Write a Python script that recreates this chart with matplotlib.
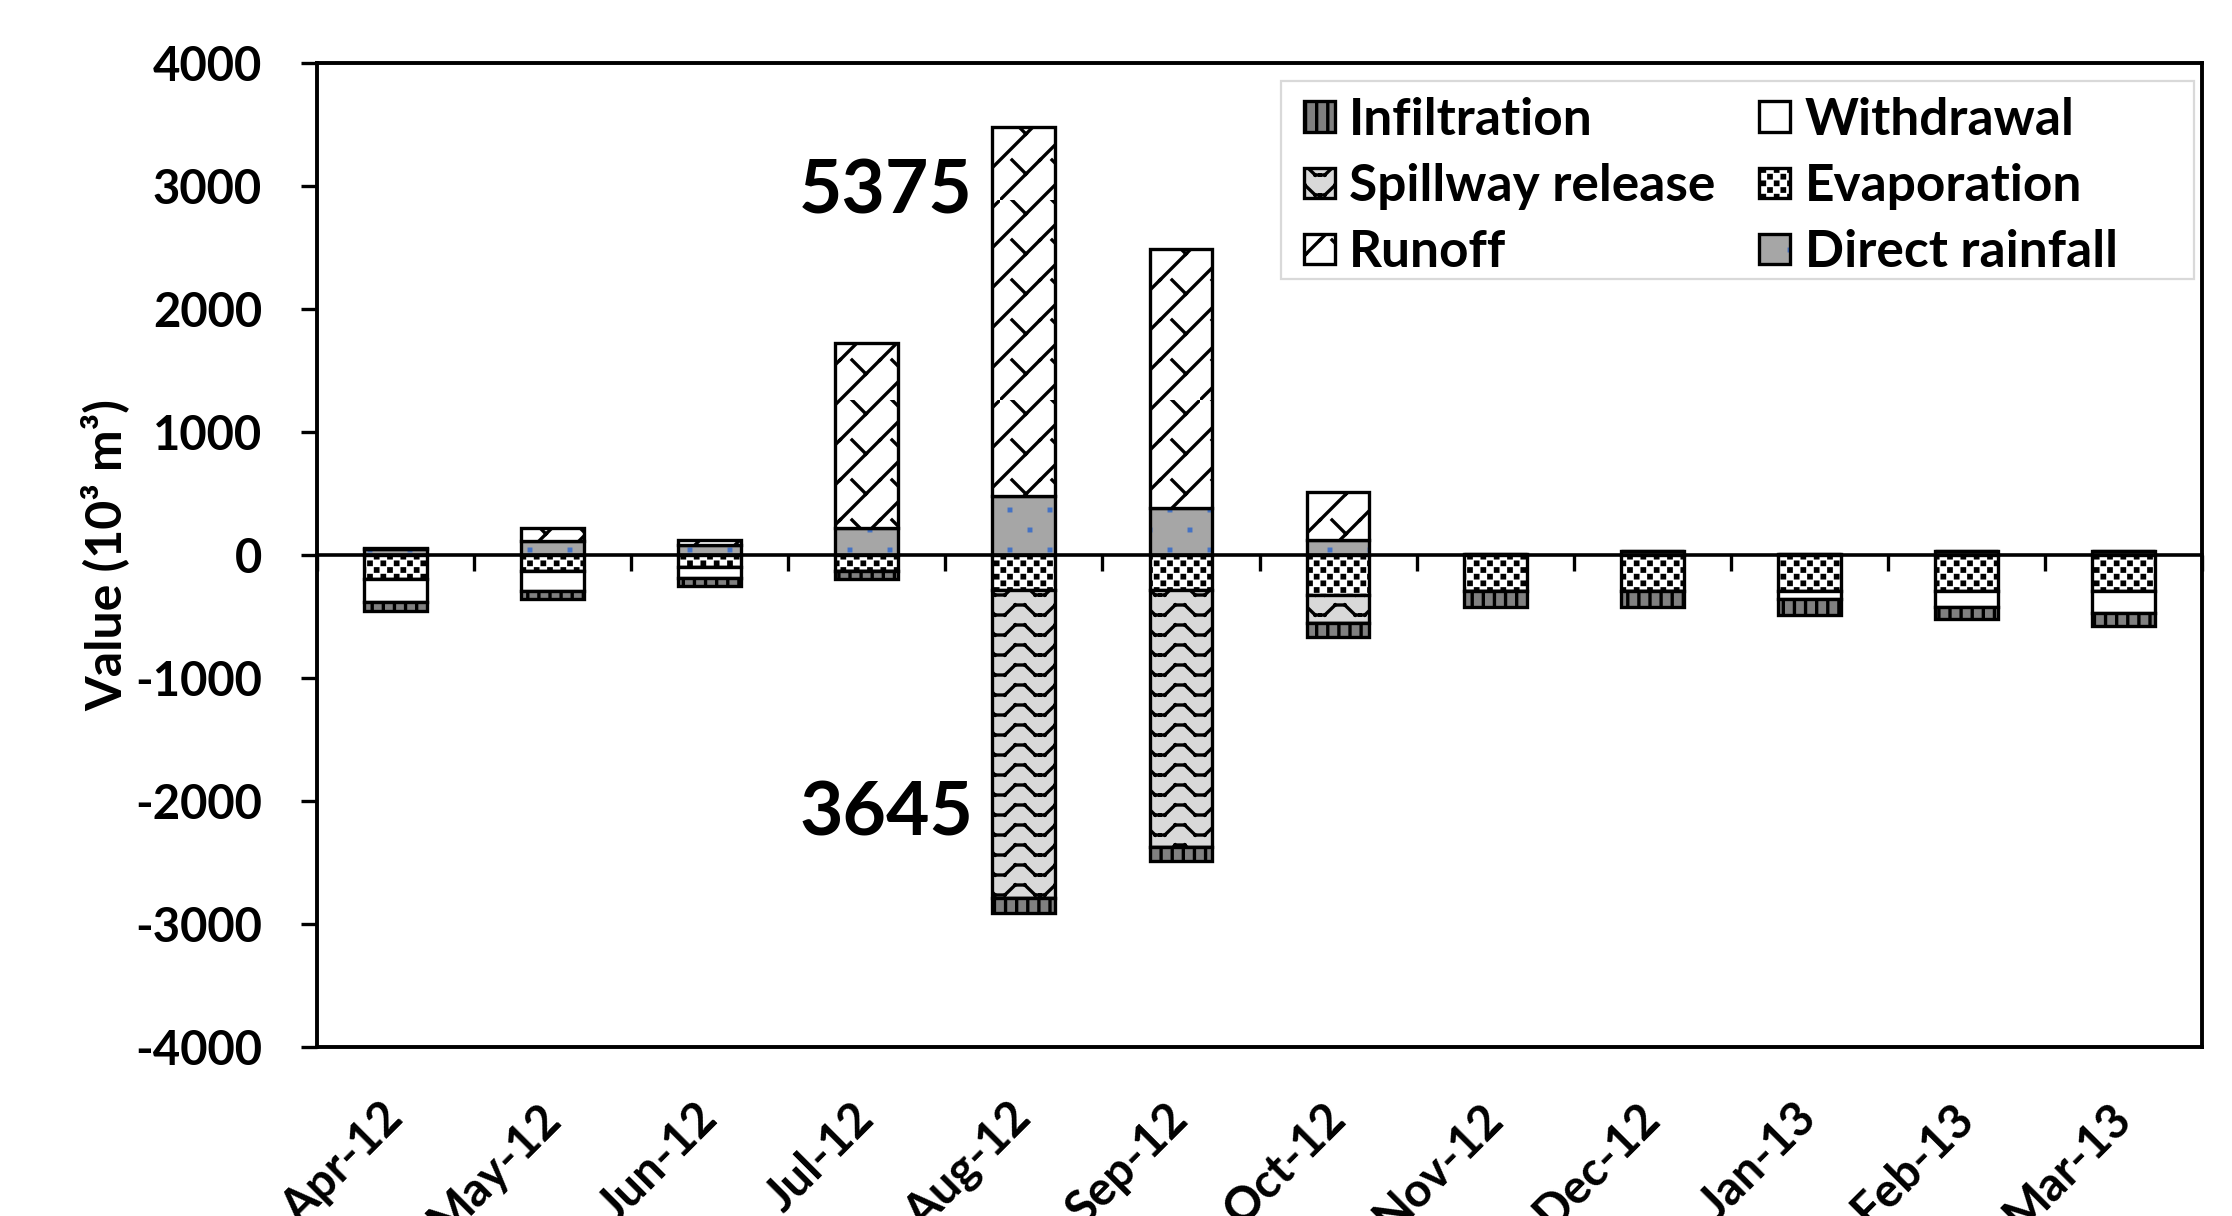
import numpy as np
import matplotlib
matplotlib.use('Agg')
import matplotlib.pyplot as plt
import matplotlib.hatch as mhatch
from matplotlib.path import Path
from matplotlib.patches import Rectangle

plt.rcParams['font.family'] = ['Lato', 'DejaVu Sans']
plt.rcParams['font.weight'] = 'bold'
plt.rcParams['hatch.linewidth'] = 1.2
plt.rcParams['axes.unicode_minus'] = False

# ---------------- data (10^3 m^3) ----------------
months = ['Apr-12', 'May-12', 'Jun-12', 'Jul-12', 'Aug-12', 'Sep-12',
          'Oct-12', 'Nov-12', 'Dec-12', 'Jan-13', 'Feb-13', 'Mar-13']
direct_rainfall = [50, 115, 80, 220, 480, 380, 120, 10, 30, 5, 30, 30]
runoff = [10, 105, 40, 1500, 3000, 2105, 390, 0, 0, 0, 0, 0]
evaporation = [-195, -130, -95, -130, -285, -285, -325, -290, -290, -290, -290, -295]
spillway_release = [0, 0, 0, 0, -2505, -2085, -225, 0, 0, 0, 0, 0]
withdrawal = [-190, -165, -95, 0, 0, 0, 0, 0, 0, -65, -130, -175]
infiltration = [-70, -65, -65, -65, -120, -120, -120, -130, -130, -130, -100, -105]

ytick_values = [-4000, -3000, -2000, -1000, 0, 1000, 2000, 3000, 4000]
ytick_labels = ['-4000', '-3000', '-2000', '-1000', '0', '1000', '2000', '3000', '4000']

annot_month = ['Aug-12', 'Aug-12']
annot_value = [2780, -2283]
annot_text = ['5375', '3645']


# ---------------- custom Excel-like fill patterns ----------------
class _TileHatch(mhatch.HatchPatternBase):
    char = ''
    nx = 1
    ny = 1
    segments = ()
    squares = ()

    def __init__(self, hatch, density):
        on = self.char in hatch
        per_cell = 2 * len(self.segments) + 5 * len(self.squares)
        self.num_vertices = per_cell * self.nx * self.ny if on else 0

    def set_vertices_and_codes(self, vertices, codes):
        v, c = [], []
        for i in range(self.nx):
            for j in range(self.ny):
                for (x0, y0), (x1, y1) in self.segments:
                    v += [((i + x0) / self.nx, (j + y0) / self.ny),
                          ((i + x1) / self.nx, (j + y1) / self.ny)]
                    c += [Path.MOVETO, Path.LINETO]
                for cx, cy, h in self.squares:
                    pts = [(cx - h, cy - h), (cx + h, cy - h), (cx + h, cy + h),
                           (cx - h, cy + h), (cx - h, cy - h)]
                    v += [((i + a) / self.nx, (j + b) / self.ny) for a, b in pts]
                    c += [Path.MOVETO, Path.LINETO, Path.LINETO, Path.LINETO, Path.CLOSEPOLY]
        vertices[:] = v
        codes[:] = c


_wave = [(0, 0.25), (0.12, 0.25), (0.38, 0.75), (0.62, 0.75), (0.88, 0.25), (1.0, 0.25)]


class WaveHatch(_TileHatch):
    char = 'O'
    nx, ny = 5, 10
    segments = list(zip(_wave[:-1], _wave[1:]))


class ShingleHatch(_TileHatch):
    char = '*'
    nx, ny = 5, 5
    segments = [((0.0, 0.0), (1.0, 1.0)), ((0.3, 1.0), (0.65, 0.65))]


class CheckerHatch(_TileHatch):
    char = 'o'
    nx, ny = 15, 15
    squares = [(0.25, 0.25, 0.09), (0.75, 0.75, 0.09)]


class DotHatch(_TileHatch):
    char = '.'
    nx, ny = 5, 5
    squares = [(0.25, 0.25, 0.02), (0.75, 0.75, 0.02)]


_repl = {mhatch.SmallCircles: CheckerHatch, mhatch.LargeCircles: WaveHatch,
         mhatch.SmallFilledCircles: DotHatch, mhatch.Stars: ShingleHatch}
mhatch._hatch_types[:] = [_repl.get(t, t) for t in mhatch._hatch_types]

# ---------------- figure ----------------
fig = plt.figure(figsize=(11.16, 6.08), dpi=200)
ax = fig.add_axes([0.14203, 0.13898, 0.84453, 0.80921])

x = np.arange(len(months))
w = 0.4
lw = 1.2

rain = np.array(direct_rainfall)
ro = np.array(runoff)
ev = np.array(evaporation)
sp = np.array(spillway_release)
wd = np.array(withdrawal)
inf = np.array(infiltration)

rain_fill = ax.bar(x, rain, w, color='#a6a6a6', edgecolor='#4472c4', hatch='.',
                   linewidth=0, zorder=2)
rain_edge = ax.bar(x, rain, w, facecolor='none', edgecolor='black', linewidth=lw, zorder=2)
b_ro = ax.bar(x, ro, w, bottom=rain, color='white', edgecolor='black', hatch='*',
              linewidth=lw, zorder=2)
b_ev = ax.bar(x, ev, w, color='white', edgecolor='black', hatch='o', linewidth=lw, zorder=2)
b_sp = ax.bar(x, sp, w, bottom=ev, color='#d9d9d9', edgecolor='black', hatch='O',
              linewidth=lw, zorder=2)
b_wd = ax.bar(x, wd, w, bottom=ev + sp, color='white', edgecolor='black',
              linewidth=lw, zorder=2)
b_in = ax.bar(x, inf, w, bottom=ev + sp + wd, color='#808080', edgecolor='black',
              hatch='|||', linewidth=lw, zorder=2)

ax.set_xlim(-0.5, len(months) - 0.5)
ax.set_ylim(ytick_values[0], ytick_values[-1])

for s in ax.spines.values():
    s.set_linewidth(1.4)
    s.set_zorder(4)

ax.set_yticks(ytick_values)
ax.set_yticklabels(ytick_labels)
ax.tick_params(axis='y', direction='out', length=5.8, width=1.2, pad=14, labelsize=17)
ax.set_xticks(x)
ax.set_xticklabels(months, rotation=45, ha='right', va='center', rotation_mode='anchor')
ax.tick_params(axis='x', length=0, pad=23, labelsize=17)

ax.set_ylabel('Value (10³ m³)', fontsize=18, fontweight='bold', labelpad=2)

# horizontal category axis crossing at zero, with tick marks between categories
sec = ax.secondary_xaxis(0.5)
sec.set_alignment('bottom')
sec.set_ticks(np.arange(-0.5, len(months), 1.0))
sec.tick_params(axis='x', direction='out', length=5.8, width=1.2,
                labelbottom=False, labeltop=False)
sec.spines['bottom'].set_linewidth(1.3)
sec.set_zorder(3)

# annotations
for m, val, t in zip(annot_month, annot_value, annot_text):
    xi = months.index(m)
    ax.annotate(t, xy=(xi - w / 2, val), xytext=(-7, 0), textcoords='offset points',
                ha='right', va='baseline', fontsize=27, fontweight='bold')

# legend box (Excel-style, wider than its entries)
ax.add_patch(Rectangle((0.5114, 0.7805), 0.9958 - 0.5114, 0.9817 - 0.7805,
                       transform=ax.transAxes, facecolor='white', edgecolor='#d9d9d9',
                       linewidth=0.8, zorder=4.5))

handles = [b_in, b_sp, b_ro, b_wd, b_ev, (rain_fill, rain_edge)]
labels = ['Infiltration', 'Spillway release', 'Runoff', 'Withdrawal', 'Evaporation',
          'Direct rainfall']
leg = ax.legend(handles, labels, ncol=2, loc='upper left', bbox_to_anchor=(0.5114, 0.9888),
                borderaxespad=0, prop={'weight': 'bold', 'size': 18.5},
                handlelength=0.6, handleheight=0.55, handletextpad=0.28,
                columnspacing=0.85, labelspacing=0.37, borderpad=0.45,
                frameon=False)
leg.set_zorder(5)

fig.savefig('out.png', dpi=200)
